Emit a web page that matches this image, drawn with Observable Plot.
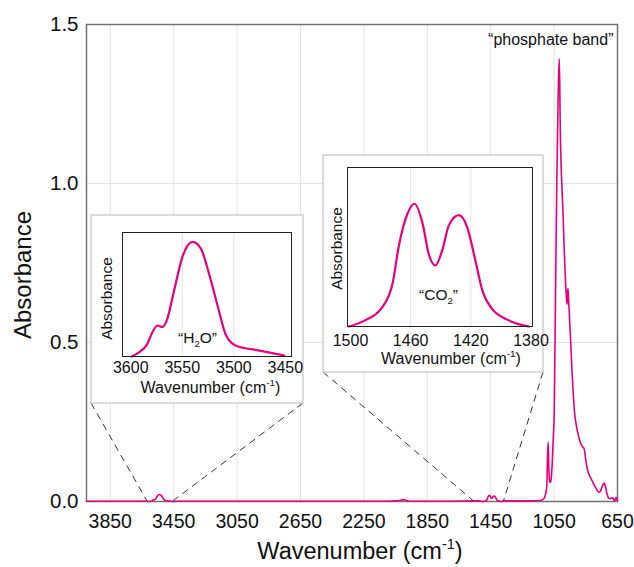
<!DOCTYPE html>
<html>
<head>
<meta charset="utf-8">
<script src="https://cdn.jsdelivr.net/npm/d3@7"></script>
<script src="https://cdn.jsdelivr.net/npm/@observablehq/plot@0.6"></script>
<style>
  html, body { margin: 0; padding: 0; background: #fff; }
</style>
</head>
<body>
<div id="chart"></div>
<script>
// ---------------- data ----------------
const xTicks = [3850, 3450, 3050, 2650, 2250, 1850, 1450, 1050, 650];
const yTicks = [0, 0.5, 1.0, 1.5];
const h2oTicks = [3600, 3550, 3500, 3450];
const co2Ticks = [1500, 1460, 1420, 1380];

// broad background of the spectrum (incl. small band near 2000 cm-1)
const baseWavenumber = [4000, 3850, 3700, 3620, 3430, 3200, 2800, 2400, 2100, 2040, 2020, 2002, 1985, 1965, 1900, 1700, 1560, 1520, 1370, 1300, 1200, 1150];
const baseAbsorbance = [0.001, 0.001, 0.001, 0.001, 0.001, 0.001, 0.001, 0.001, 0.001, 0.002, 0.004, 0.006, 0.004, 0.001, 0.001, 0.001, 0.002, 0.002, 0.002, 0.002, 0.002, 0.003];

// "H2O" region
const h2oWavenumber = [3599, 3592, 3584, 3579, 3574, 3569.5, 3565, 3558, 3550, 3540, 3532, 3524, 3514.5, 3508, 3498, 3476, 3451];
const h2oAbsorbance = [0.0000, 0.0008, 0.0024, 0.0047, 0.0060, 0.0057, 0.0070, 0.0127, 0.0192, 0.0222, 0.0209, 0.0160, 0.0089, 0.0043, 0.0021, 0.0012, 0.0002];

// "CO2" region
const co2Wavenumber = [1501, 1490, 1479, 1472, 1468, 1462, 1457.5, 1452, 1448, 1443.5, 1439, 1434.6, 1428, 1422.4, 1417, 1412.4, 1406, 1395, 1381.5];
const co2Absorbance = [0.0000, 0.0010, 0.0030, 0.0068, 0.0125, 0.0178, 0.0193, 0.0161, 0.0114, 0.0096, 0.0120, 0.0159, 0.0175, 0.0156, 0.0104, 0.0057, 0.0028, 0.0010, 0.0000];

// "phosphate band" region
const po4Wavenumber = [1130, 1115, 1105, 1096, 1091, 1087, 1084, 1080, 1075, 1070, 1062, 1055, 1049, 1043, 1038, 1033, 1028, 1022, 1017, 1011, 1000, 993, 986, 978, 972, 968, 965, 962, 958, 955, 949, 943, 935, 928, 922, 910, 900, 890, 880, 870, 860, 850, 838, 820, 806, 790, 775, 765, 755, 745, 735, 725, 715, 705, 695, 685, 678, 670, 664, 659, 654, 650];
const po4Absorbance = [0.004, 0.009, 0.02, 0.05, 0.15, 0.186, 0.12, 0.07, 0.06, 0.065, 0.12, 0.2, 0.29, 0.55, 0.79, 1.0, 1.17, 1.33, 1.392, 1.17, 0.98, 0.9, 0.79, 0.69, 0.64, 0.62, 0.66, 0.67, 0.63, 0.6, 0.54, 0.475, 0.39, 0.33, 0.286, 0.24, 0.215, 0.195, 0.18, 0.172, 0.165, 0.13, 0.097, 0.075, 0.061, 0.045, 0.033, 0.029, 0.035, 0.05, 0.058, 0.045, 0.022, 0.01, 0.009, 0.012, 0.011, 0.002, 0.006, 0.013, 0.006, 0.004];

// wavenumber ranges that the dashed connectors point to
const h2oZoomRange = [3615, 3453];
const co2ZoomRange = [1555, 1366];

// ---------------- build ----------------
const FONT = "Arial, 'Liberation Sans', Helvetica, sans-serif";
const LINE = "#e6007e";
const GRID = "#e3e3e3";
const toRows = (w, a) => w.map((x, i) => ({w: x, a: a[i]}));
const h2oRows = toRows(h2oWavenumber, h2oAbsorbance);
const co2Rows = toRows(co2Wavenumber, co2Absorbance);
const mainRows = [
  ...toRows(baseWavenumber, baseAbsorbance),
  ...h2oRows, ...co2Rows,
  ...toRows(po4Wavenumber, po4Absorbance)
].sort((p, q) => q.w - p.w);

const mid = {textAnchor: "middle", lineAnchor: "middle"};

const main = Plot.plot({
  width: 634, height: 567,
  marginLeft: 86, marginRight: 17, marginTop: 24, marginBottom: 66,
  style: {fontFamily: FONT, fontSize: "19px", color: "#111", background: "#fff", overflow: "visible"},
  x: {domain: [4000, 650]},
  y: {domain: [0, 1.5]},
  marks: [
    Plot.gridX(xTicks, {stroke: GRID, strokeOpacity: 1, strokeWidth: 1}),
    Plot.gridY([0.5, 1.0], {stroke: GRID, strokeOpacity: 1, strokeWidth: 1}),
    Plot.axisX(xTicks, {tickSize: 0, tickPadding: 13, tickFormat: "d", fontSize: 19.5, label: null}),
    Plot.axisY(yTicks, {tickSize: 0, tickPadding: 8, tickFormat: ".1f", fontSize: 20.5, label: null}),
    Plot.frame({stroke: "#707070", strokeWidth: 1.5}),
    Plot.line(mainRows, {x: "w", y: "a", stroke: LINE, strokeWidth: 1.6, curve: "monotone-x"}),
    Plot.text(["Wavenumber (cm-1)"], {frameAnchor: "bottom", ...mid, dx: 8, dy: 50, fontSize: 23.5}),
    Plot.text(["Absorbance"], {frameAnchor: "left", ...mid, dx: -63, dy: 12, rotate: -90, fontSize: 24}),
    Plot.text(["“phosphate band”"], {frameAnchor: "top-right", textAnchor: "end", lineAnchor: "middle", dx: -4, dy: 15, fontSize: 16})
  ]
});

const h2oPlot = Plot.plot({
  width: 212, height: 188,
  marginLeft: 31, marginRight: 12, marginTop: 17, marginBottom: 47,
  style: {fontFamily: FONT, fontSize: "15px", color: "#111", overflow: "visible"},
  x: {domain: [3608, 3444]},
  y: {domain: [0, 0.024], axis: null},
  marks: [
    Plot.gridX([3550, 3500], {stroke: GRID, strokeOpacity: 1}),
    Plot.axisX(h2oTicks, {tickSize: 0, tickPadding: 5, tickFormat: "d", fontSize: 16, label: null}),
    Plot.line(h2oRows, {x: "w", y: "a", stroke: LINE, strokeWidth: 2.2, curve: "monotone-x"}),
    Plot.frame({stroke: "#222", strokeWidth: 1}),
    Plot.text(["Wavenumber (cm-1)"], {frameAnchor: "bottom", ...mid, dx: 3.5, dy: 31, fontSize: 16}),
    Plot.text(["Absorbance"], {frameAnchor: "left", ...mid, dx: -15, dy: 4, rotate: -90, fontSize: 15.5}),
    Plot.text(["“H2O”"], {frameAnchor: "bottom", ...mid, dx: -9.5, dy: -18, fontSize: 15.5})
  ]
});

const co2Plot = Plot.plot({
  width: 220, height: 217,
  marginLeft: 24, marginRight: 11, marginTop: 12, marginBottom: 46,
  style: {fontFamily: FONT, fontSize: "15px", color: "#111", overflow: "visible"},
  x: {domain: [1502, 1379]},
  y: {domain: [0, 0.025], axis: null},
  marks: [
    Plot.gridX([1460, 1420], {stroke: GRID, strokeOpacity: 1}),
    Plot.axisX(co2Ticks, {tickSize: 0, tickPadding: 8, tickFormat: "d", fontSize: 16, label: null}),
    Plot.line(co2Rows, {x: "w", y: "a", stroke: LINE, strokeWidth: 2.2, curve: "monotone-x"}),
    Plot.frame({stroke: "#222", strokeWidth: 1}),
    Plot.text(["Wavenumber (cm-1)"], {frameAnchor: "bottom", ...mid, dx: 11, dy: 32, fontSize: 16}),
    Plot.text(["Absorbance"], {frameAnchor: "left", ...mid, dx: -10, dy: 1.5, rotate: -90, fontSize: 15.5}),
    Plot.text(["“CO2”"], {frameAnchor: "bottom", ...mid, dx: -1.5, dy: -31, fontSize: 15.5})
  ]
});

document.getElementById("chart").appendChild(main);
const svg = d3.select(main);
const xs = main.scale("x"), ys = main.scale("y");
const y0 = ys.apply(0);

// inset boxes (layout)
const boxes = [
  {plot: h2oPlot, x: 91, y: 215, w: 212, h: 188, range: h2oZoomRange},
  {plot: co2Plot, x: 323, y: 155, w: 220, h: 217, range: co2ZoomRange}
];

const conn = svg.append("g").attr("stroke", "#333").attr("stroke-width", 1).attr("stroke-dasharray", "7,5").attr("fill", "none");
for (const b of boxes) {
  conn.append("line").attr("x1", b.x).attr("y1", b.y + b.h).attr("x2", xs.apply(b.range[0])).attr("y2", y0);
  conn.append("line").attr("x1", b.x + b.w).attr("y1", b.y + b.h).attr("x2", xs.apply(b.range[1])).attr("y2", y0);
}
for (const b of boxes) {
  svg.append("rect").attr("x", b.x).attr("y", b.y).attr("width", b.w).attr("height", b.h)
    .attr("fill", "#fff").attr("stroke", "#cfcfcf").attr("stroke-width", 1.5);
  const p = b.plot;
  p.setAttribute("x", b.x);
  p.setAttribute("y", b.y);
  p.style.width = b.w + "px";
  p.style.height = b.h + "px";
  p.style.maxWidth = "none";
  p.style.background = "none";
  main.appendChild(p);
}

// sub/superscripts
const NS = "http://www.w3.org/2000/svg";
function rebuild(t, pieces) {
  while (t.firstChild) t.removeChild(t.firstChild);
  let shift = 0; // in parent em
  for (const pc of pieces) {
    const s = document.createElementNS(NS, "tspan");
    s.textContent = pc.t;
    if (pc.sup) {
      s.setAttribute("font-size", "62%");
      s.setAttribute("dy", (-0.42 / 0.62 - shift / 0.62).toFixed(3) + "em");
      shift = -0.42;
    } else if (pc.sub) {
      s.setAttribute("font-size", "62%");
      s.setAttribute("dy", (0.25 / 0.62 - shift / 0.62).toFixed(3) + "em");
      shift = 0.25;
    } else if (shift !== 0) {
      s.setAttribute("dy", (-shift).toFixed(3) + "em");
      shift = 0;
    }
    t.appendChild(s);
  }
}
main.querySelectorAll("text").forEach(t => {
  const s = t.textContent;
  if (s === "Wavenumber (cm-1)") rebuild(t, [{t: "Wavenumber (cm"}, {t: "-1", sup: true}, {t: ")"}]);
  else if (s === "“H2O”") rebuild(t, [{t: "“H"}, {t: "2", sub: true}, {t: "O”"}]);
  else if (s === "“CO2”") rebuild(t, [{t: "“CO"}, {t: "2", sub: true}, {t: "”"}]);
});
</script>
</body>
</html>
